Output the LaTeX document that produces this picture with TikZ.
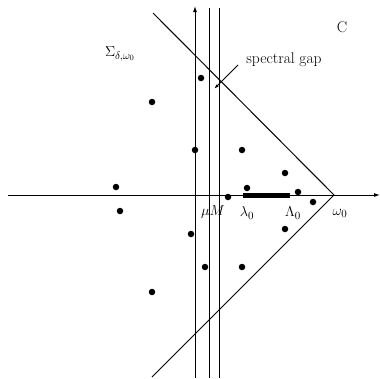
\documentclass[tikz,border=0pt]{standalone}
\usetikzlibrary{arrows.meta}
\begin{document}
\begin{tikzpicture}[x=1pt,y=-1pt,
  dot/.style={circle,fill=black,inner sep=0pt,minimum size=6.5pt},
  lbl/.style={inner sep=1pt,font=\fontsize{15.5}{18}\selectfont},
  ln/.style={line width=1pt},
  arr/.style={ln,-{Latex[length=6pt,width=4pt]}}]
\useasboundingbox (0,0) rectangle (380,378);
% coordinates
\coordinate (xl) at (8,195);
\coordinate (xr) at (380,195);
\coordinate (yb) at (195,378);
\coordinate (yt) at (195,6);
\coordinate (m1b) at (209,378);
\coordinate (m1t) at (209,8);
\coordinate (m2b) at (219,378);
\coordinate (m2t) at (219,8);
\coordinate (apex) at (334,195);
\coordinate (ct) at (153,13);
\coordinate (cb) at (152,377);
\coordinate (g1) at (243,195);
\coordinate (g2) at (290,195);
\coordinate (sgs) at (238,65);
\coordinate (sge) at (214,89);
% axes
\draw[arr] (xl) -- (xr);
\draw[arr] (yb) -- (yt);
\draw[ln] (m1b) -- (m1t);
\draw[ln] (m2b) -- (m2t);
% cone
\draw[ln] (ct) -- (apex) -- (cb);
% gap bar
\draw[line width=5pt] (g1) -- (g2);
% dots
\node[dot] (d1) at (201,78) {};
\node[dot] (d2) at (152,102) {};
\node[dot] (d3) at (195,150) {};
\node[dot] (d4) at (242,150) {};
\node[dot] (d5) at (285,173) {};
\node[dot] (d6) at (247,188) {};
\node[dot] (d7) at (228,197) {};
\node[dot] (d8) at (298,192) {};
\node[dot] (d9) at (313,202) {};
\node[dot] (d10) at (285,229) {};
\node[dot] (d11) at (191,234) {};
\node[dot] (d12) at (116,187) {};
\node[dot] (d13) at (120,211) {};
\node[dot] (d14) at (205,267) {};
\node[dot] (d15) at (242,267) {};
\node[dot] (d16) at (152,292) {};
% labels
\node[lbl] (mu) at (213,212) {$\mu M$};
\node[lbl] (lam) at (247,213) {$\lambda_0$};
\node[lbl] (Lam) at (293,213) {$\Lambda_0$};
\node[lbl] (om) at (340,213) {$\omega_0$};
\node[lbl] (sig) at (120,54) {$\Sigma_{\delta,\omega_0}$};
\node[lbl] (C) at (342,27) {C};
\node[lbl] (sg) at (284,60) {spectral gap};
\draw[ln,-{Latex[length=5pt,width=3pt]}] (sgs) -- (sge);
\end{tikzpicture}
\end{document}
